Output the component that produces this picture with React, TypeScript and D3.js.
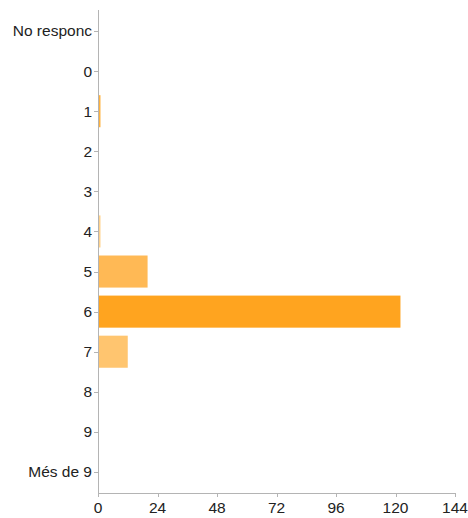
import React from "react";
import * as d3 from "d3";

const categories = ["No responc", "0", "1", "2", "3", "4", "5", "6", "7", "8", "9", "Més de 9"];
const values = [0, 0, 1, 0, 0, 1, 20, 122, 12, 0, 0, 0];
const barColors = ["#ffb444", "#ffb444", "#ffb23f", "#ffb444", "#ffb444", "#ffd28c", "#ffb955", "#ffa41f", "#ffc56f", "#ffb444", "#ffb444", "#ffb444"];
const xTicks = [0, 24, 48, 72, 96, 120, 144];

const W = 468;
const H = 518;
const left = 98;
const right = 455;
const top = 11;
const bottom = 493;

export default function App() {
  const x = d3.scaleLinear().domain([0, 144]).range([left, right]);
  const y = d3.scaleBand<string>().domain(categories).range([top, bottom - 1]).paddingInner(0.2).paddingOuter(0.1);
  const step = y.step();
  const font = "'Liberation Sans', Arial, Helvetica, sans-serif";
  return (
    <svg width={W} height={H} style={{ position: "absolute", left: 0, top: 0 }} fontFamily={font}>
      {categories.map((c, i) =>
        values[i] > 0 ? (
          <rect key={c} x={x(0)} y={y(c)!} width={x(values[i]) - x(0)} height={y.bandwidth()} fill={barColors[i]} />
        ) : null
      )}
      <line x1={left + 0.5} x2={left + 0.5} y1={10} y2={bottom} stroke="#b4b4b4" strokeWidth={1} />
      <line x1={left} x2={right + 0.5} y1={bottom + 0.5} y2={bottom + 0.5} stroke="#b4b4b4" strokeWidth={1} />
      {categories.map((c) => {
        const cy = y(c)! + y.bandwidth() / 2;
        return (
          <g key={c}>
            <line x1={left - 4} x2={left} y1={Math.round(cy) + 0.5} y2={Math.round(cy) + 0.5} stroke="#b4b4b4" />
            <text x={left - 6} y={cy} dy="0.35em" textAnchor="end" fontSize={15.5} fill="#222">{c}</text>
          </g>
        );
      })}
      {xTicks.map((t) => (
        <g key={t}>
          <line x1={Math.round(x(t)) + 0.5} x2={Math.round(x(t)) + 0.5} y1={bottom} y2={bottom + 4} stroke="#b4b4b4" />
          <text x={x(t)} y={bottom + 19.5} textAnchor="middle" fontSize={15.5} fill="#222">{t}</text>
        </g>
      ))}
    </svg>
  );
}
